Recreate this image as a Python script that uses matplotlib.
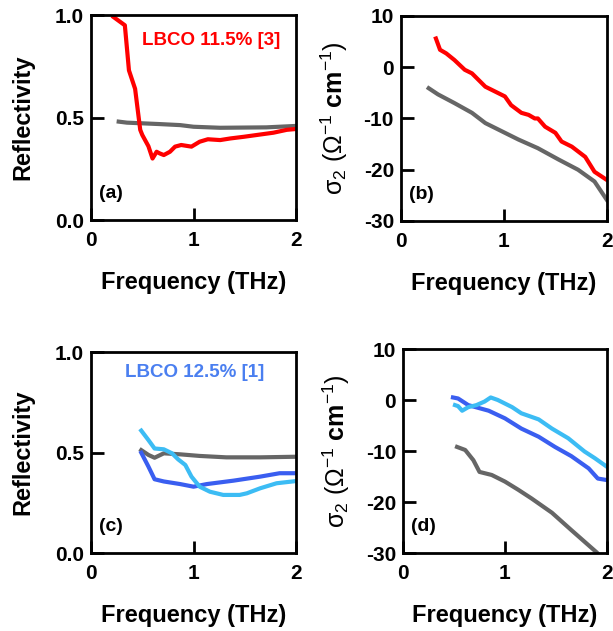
import matplotlib
matplotlib.use("Agg")
import matplotlib.pyplot as plt

plt.rcParams['font.family'] = ['Liberation Sans', 'DejaVu Sans']
plt.rcParams['font.weight'] = 'bold'
plt.rcParams['mathtext.fontset'] = 'custom'
plt.rcParams['mathtext.rm'] = 'Liberation Sans:weight=normal'
plt.rcParams['mathtext.it'] = 'Liberation Sans:weight=normal'
plt.rcParams['mathtext.bf'] = 'Liberation Sans:weight=bold'

RED = '#ff0000'
GRAY = '#666666'
BLUE = '#3a5ef0'
CYAN = '#3cbcf4'
LABEL_BLUE = '#4a7ff0'

# (a) reflectivity, LBCO 11.5%
a_red_f = [0.22, 0.33, 0.37, 0.43, 0.48, 0.50, 0.56, 0.60, 0.64, 0.67, 0.71, 0.77,
           0.82, 0.88, 0.98, 1.06, 1.14, 1.26, 1.36, 1.49, 1.62, 1.78, 1.91, 2.0]
a_red_r = [0.99, 0.95, 0.73, 0.64, 0.44, 0.415, 0.36, 0.30, 0.333, 0.325, 0.317, 0.333,
           0.358, 0.366, 0.358, 0.382, 0.394, 0.39, 0.398, 0.406, 0.415, 0.426, 0.44, 0.444]
a_gray_f = [0.27, 0.35, 0.67, 0.87, 1.0, 1.26, 1.71, 2.0]
a_gray_r = [0.48, 0.475, 0.468, 0.463, 0.455, 0.45, 0.452, 0.459]

# (b) sigma2, LBCO 11.5%
b_red_f = [0.34, 0.38, 0.44, 0.52, 0.62, 0.69, 0.82, 0.88, 0.94, 1.01, 1.07, 1.17, 1.24,
           1.30, 1.33, 1.40, 1.50, 1.56, 1.66, 1.79, 1.88, 2.0]
b_red_s = [5.6, 3.4, 2.7, 1.4, -0.5, -1.2, -3.8, -4.4, -5.0, -5.7, -7.4, -8.9, -9.3,
           -10.0, -10.0, -11.6, -12.8, -14.5, -15.5, -17.5, -20.4, -22.0]
b_gray_f = [0.27, 0.36, 0.52, 0.69, 0.82, 1.01, 1.14, 1.33, 1.53, 1.72, 1.88, 2.0]
b_gray_s = [-4.1, -5.3, -7.0, -8.9, -10.9, -12.8, -14.1, -15.8, -18.0, -20.0, -22.3, -25.9]

# (c) reflectivity, LBCO 12.5%
c_gray_f = [0.49, 0.56, 0.62, 0.71, 0.87, 1.06, 1.32, 1.65, 2.0]
c_gray_r = [0.512, 0.488, 0.474, 0.496, 0.491, 0.483, 0.476, 0.476, 0.479]
c_blue_f = [0.49, 0.56, 0.62, 0.71, 0.87, 1.0, 1.13, 1.39, 1.65, 1.84, 2.0]
c_blue_r = [0.499, 0.43, 0.367, 0.356, 0.343, 0.33, 0.343, 0.36, 0.38, 0.397, 0.397]
c_cyan_f = [0.49, 0.56, 0.62, 0.71, 0.79, 0.85, 0.92, 0.98, 1.06, 1.16, 1.29, 1.45,
            1.52, 1.65, 1.81, 2.0]
c_cyan_r = [0.609, 0.562, 0.52, 0.516, 0.496, 0.466, 0.438, 0.38, 0.33, 0.305, 0.289,
            0.289, 0.297, 0.322, 0.347, 0.358]

# (d) sigma2, LBCO 12.5%
d_gray_f = [0.53, 0.61, 0.69, 0.75, 0.87, 1.0, 1.13, 1.26, 1.46, 1.65, 1.90, 1.95]
d_gray_s = [-9.2, -9.8, -11.8, -14.1, -14.7, -16.0, -17.6, -19.3, -22.1, -25.5, -29.9, -31.0]
d_blue_f = [0.49, 0.54, 0.64, 0.84, 1.0, 1.16, 1.33, 1.49, 1.65, 1.82, 1.91, 2.0]
d_blue_s = [0.5, 0.3, -1.0, -2.1, -3.6, -5.6, -7.2, -9.2, -11.0, -13.4, -15.4, -15.7]
d_cyan_f = [0.51, 0.54, 0.58, 0.64, 0.72, 0.80, 0.86, 0.93, 1.07, 1.16, 1.33, 1.46,
            1.62, 1.78, 1.88, 2.0]
d_cyan_s = [-1.0, -1.2, -2.1, -1.4, -1.0, -0.3, 0.5, 0.0, -1.4, -2.6, -3.8, -5.6,
            -7.5, -10.1, -11.4, -13.1]

refl_ticks = [0.0, 0.5, 1.0]
sig_ticks = [-30, -20, -10, 0, 10]
freq_ticks = [0, 1, 2]

fig = plt.figure(figsize=(6.13, 6.31), dpi=100)
ax_a = fig.add_axes([0.1485, 0.6513, 0.3344, 0.3249])
ax_b = fig.add_axes([0.654, 0.6498, 0.336, 0.3249])
ax_c = fig.add_axes([0.1485, 0.1236, 0.3344, 0.3185])
ax_d = fig.add_axes([0.6574, 0.1236, 0.3328, 0.3233])

lw = 3.0
ax_a.plot(a_gray_f, a_gray_r, color=GRAY, lw=lw)
ax_a.plot(a_red_f, a_red_r, color=RED, lw=lw)
ax_b.plot(b_gray_f, b_gray_s, color=GRAY, lw=lw)
ax_b.plot(b_red_f, b_red_s, color=RED, lw=lw)
ax_c.plot(c_gray_f, c_gray_r, color=GRAY, lw=lw)
ax_c.plot(c_blue_f, c_blue_r, color=BLUE, lw=lw)
ax_c.plot(c_cyan_f, c_cyan_r, color=CYAN, lw=lw)
ax_d.plot(d_gray_f, d_gray_s, color=GRAY, lw=lw)
ax_d.plot(d_blue_f, d_blue_s, color=BLUE, lw=lw)
ax_d.plot(d_cyan_f, d_cyan_s, color=CYAN, lw=lw)

sig_label = r'$\mathrm{\sigma_2\ (\Omega^{-1}}\ \mathbf{cm}^{\mathrm{-1}}\mathrm{)}$'

for ax, tag in [(ax_a, '(a)'), (ax_b, '(b)'), (ax_c, '(c)'), (ax_d, '(d)')]:
    ax.set_xlim(0, 2)
    ax.set_xticks(freq_ticks)
    ax.set_xticklabels([str(t) for t in freq_ticks])
    ax.set_xlabel('Frequency (THz)', fontsize=17, fontweight='bold', labelpad=15)
    ax.tick_params(direction='in', length=9, width=2, labelsize=15, pad=8)
    ax.tick_params(axis='y', pad=5)
    for s in ax.spines.values():
        s.set_linewidth(2)
    ax.text(0.04, 0.13, tag, transform=ax.transAxes, fontsize=14, fontweight='bold',
            va='center', ha='left')

for ax in (ax_a, ax_c):
    ax.set_ylim(0, 1)
    ax.set_yticks(refl_ticks)
    ax.set_yticklabels(['%.1f' % t for t in refl_ticks])
    ax.set_ylabel('Reflectivity', fontsize=17, fontweight='bold', labelpad=15)

for ax in (ax_b, ax_d):
    ax.set_ylim(-30, 10)
    ax.set_yticks(sig_ticks)
    ax.set_yticklabels([str(t) for t in sig_ticks])
    ax.set_ylabel(sig_label, fontsize=18, labelpad=10)

ax_a.text(0.25, 0.878, 'LBCO 11.5% [3]', transform=ax_a.transAxes, color=RED,
          fontsize=13.5, fontweight='bold', va='center', ha='left')
ax_c.text(0.166, 0.90, 'LBCO 12.5% [1]', transform=ax_c.transAxes, color=LABEL_BLUE,
          fontsize=13.5, fontweight='bold', va='center', ha='left')

fig.savefig('out.png', dpi=100)
